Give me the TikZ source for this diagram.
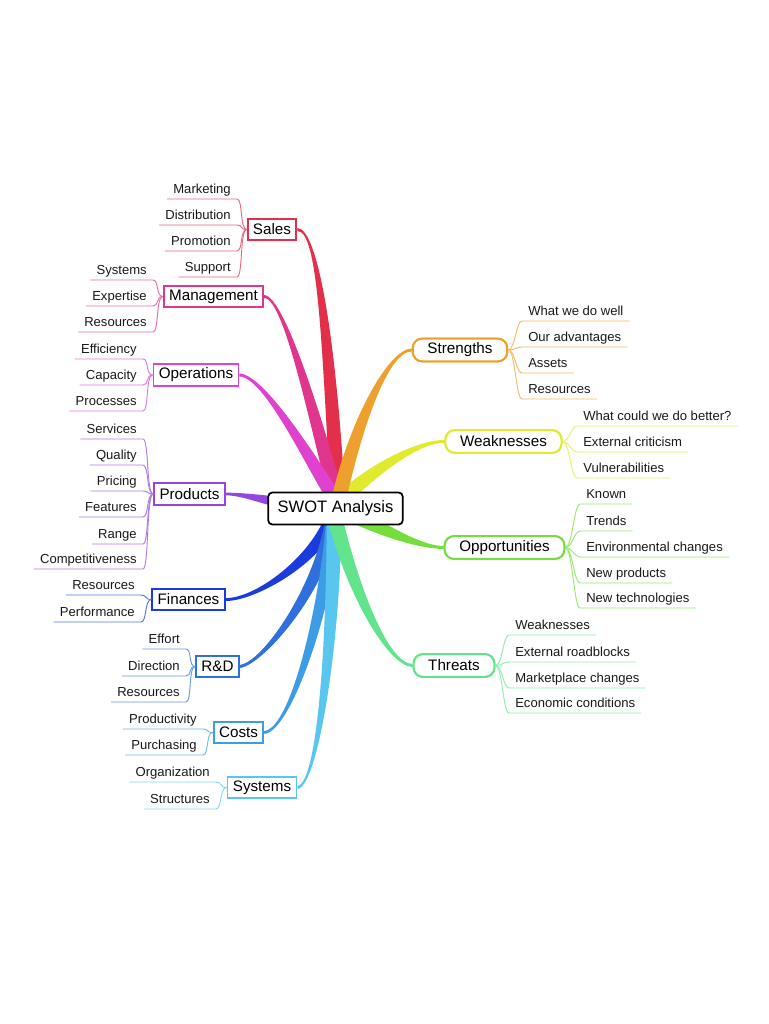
\documentclass[tikz,border=0pt]{standalone}
\usepackage{fontspec}
\setmainfont{Liberation Sans}
\usetikzlibrary{calc}

\definecolor{cSales}{HTML}{E2304A}
\definecolor{cMgmt}{HTML}{E0358C}
\definecolor{cOps}{HTML}{DE42CE}
\definecolor{cProd}{HTML}{9446E0}
\definecolor{cFin}{HTML}{1A3CDC}
\definecolor{cRD}{HTML}{2F70DC}
\definecolor{cCost}{HTML}{3C9CE6}
\definecolor{cSys}{HTML}{58C6EE}
\definecolor{cStr}{HTML}{EEA02E}
\definecolor{cWeak}{HTML}{E2EA2E}
\definecolor{cOpp}{HTML}{74DE3C}
\definecolor{cThr}{HTML}{62E48C}

\newcommand\swLeafFont{\fontsize{9.8pt}{11pt}\selectfont}
\newcommand\swBranchFont{\fontsize{11.4pt}{13pt}\selectfont}
\newcommand\swCenterFont{\fontsize{12.4pt}{14pt}\selectfont}

% tapered connector: #1 colour, #2 start, #3 control 1, #4 control 2, #5 end, #6 half width at start, #7 half width at end
\newcommand\swtaper[7]{%
  \fill[#1] ($(#2)!#6!90:(#3)$) .. controls ($(#3)!#6!-90:(#2)$) and ($(#4)!#7!90:(#5)$) .. ($(#5)!#7!-90:(#4)$)
    -- ($(#5)!#7!90:(#4)$) .. controls ($(#4)!#7!-90:(#5)$) and ($(#3)!#6!90:(#2)$) .. ($(#2)!#6!-90:(#3)$) -- cycle;}

% leaves: #1 name, #2 colour, #3 parent, #4 x, #5 y (underline), #6 text
\newcommand\swleafL[6]{%
  \node[leafL] (#1) at (#4,#5) {#6};
  \draw[uline=#2] (#1.south west) -- (#1.south east) .. controls +(6,0) and +(-7,0) .. (#3.west);}
\newcommand\swleafR[6]{%
  \node[leafR] (#1) at (#4,#5) {#6};
  \draw[uline=#2] (#3.east) .. controls +(7,0) and +(-6,0) .. (#1.south west) -- (#1.south east);}

\tikzset{
  lbox/.style={draw=#1, line width=1.4pt, fill=white, rectangle, inner xsep=4pt, inner ysep=0pt,
    minimum height=16pt, font=\swBranchFont, text=black},
  rbox/.style={draw=#1, line width=1.5pt, fill=white, rounded corners=7pt, inner xsep=11pt, inner ysep=0pt,
    minimum height=17pt, font=\swBranchFont, text=black},
  cbox/.style={draw=black, line width=1.3pt, fill=white, rounded corners=3pt, inner xsep=7pt, inner ysep=0pt,
    minimum height=24pt, font=\swCenterFont, text=black},
  leafL/.style={anchor=south east, inner xsep=4.5pt, inner ysep=1pt, text depth=3pt, font=\swLeafFont, text=black!90},
  leafR/.style={anchor=south west, inner xsep=4.5pt, inner ysep=1pt, text depth=3pt, font=\swLeafFont, text=black!90},
  uline/.style={draw=#1!72!white, line width=0.7pt}
}

\begin{document}
\begin{tikzpicture}[x=0.75pt, y=-0.75pt]
\fill[white] (0,0) rectangle (768,1024);
\useasboundingbox (0,0) rectangle (768,1024);

% centre anchors for the fan
\coordinate (ctop) at (338,503);
\coordinate (cbot) at (334,514);
\coordinate (cleft) at (300,505);
\coordinate (cright) at (350,514);

% branch nodes (placed first so that anchors exist; redrawn on top later)
\path
  node[lbox=cSales] (sales) at (272,229.5) {Sales}
  node[lbox=cMgmt] (mgmt) at (213.5,296.5) {Management}
  node[lbox=cOps] (ops) at (196,375) {Operations}
  node[lbox=cProd] (prod) at (189.5,494) {Products}
  node[lbox=cFin] (fin) at (188.5,599.5) {Finances}
  node[lbox=cRD] (rd) at (217.5,666.5) {R\&D}
  node[lbox=cCost] (costs) at (238.5,732.5) {Costs}
  node[lbox=cSys] (sys) at (262,787.5) {Systems}
  node[rbox=cStr] (str) at (460,350) {Strengths}
  node[rbox=cWeak] (weak) at (503.5,441.5) {Weaknesses}
  node[rbox=cOpp] (opp) at (504.5,547.5) {Opportunities}
  node[rbox=cThr] (thr) at (454,665.5) {Threats};

% tapered main connectors
\swtaper{cSales}{ctop}{329,340}{318,229}{sales.east}{5.5pt}{1.1pt}
\swtaper{cMgmt}{ctop}{318,430}{285,297}{mgmt.east}{5.5pt}{1.1pt}
\swtaper{cOps}{ctop}{315,470}{266,376}{ops.east}{5.5pt}{1.1pt}
\swtaper{cProd}{cleft}{270,502}{245,494}{prod.east}{4.5pt}{1pt}
\swtaper{cFin}{cbot}{318,560}{255,600}{fin.east}{5.5pt}{1.1pt}
\swtaper{cRD}{cbot}{322,590}{262,664}{rd.east}{5.5pt}{1.1pt}
\swtaper{cCost}{cbot}{328,600}{292,730}{costs.east}{5.5pt}{1.1pt}
\swtaper{cSys}{cbot}{334,640}{318,785}{sys.east}{5.5pt}{1.1pt}
\swtaper{cThr}{cbot}{352,590}{388,665}{thr.west}{5.5pt}{1.1pt}
\swtaper{cOpp}{cright}{385,530}{418,547}{opp.west}{5.5pt}{1.1pt}
\swtaper{cWeak}{ctop}{372,470}{418,441}{weak.west}{5.5pt}{1.1pt}
\swtaper{cStr}{ctop}{355,425}{388,350}{str.west}{5.5pt}{1.1pt}

% centre node
\node[cbox] (swot) at (335.5,508.5) {SWOT Analysis};

% branch nodes on top
\path
  node[lbox=cSales] at (sales) {Sales}
  node[lbox=cMgmt] at (mgmt) {Management}
  node[lbox=cOps] at (ops) {Operations}
  node[lbox=cProd] at (prod) {Products}
  node[lbox=cFin] at (fin) {Finances}
  node[lbox=cRD] at (rd) {R\&D}
  node[lbox=cCost] at (costs) {Costs}
  node[lbox=cSys] at (sys) {Systems}
  node[rbox=cStr] at (str) {Strengths}
  node[rbox=cWeak] at (weak) {Weaknesses}
  node[rbox=cOpp] at (opp) {Opportunities}
  node[rbox=cThr] at (thr) {Threats};

% leaves: Sales
\swleafL{s1}{cSales}{sales}{237}{199}{Marketing}
\swleafL{s2}{cSales}{sales}{237}{225}{Distribution}
\swleafL{s3}{cSales}{sales}{237}{251}{Promotion}
\swleafL{s4}{cSales}{sales}{237}{277}{Support}
% Management
\swleafL{m1}{cMgmt}{mgmt}{153}{280}{Systems}
\swleafL{m2}{cMgmt}{mgmt}{153}{306}{Expertise}
\swleafL{m3}{cMgmt}{mgmt}{153}{332}{Resources}
% Operations
\swleafL{o1}{cOps}{ops}{143}{359}{Efficiency}
\swleafL{o2}{cOps}{ops}{143}{385}{Capacity}
\swleafL{o3}{cOps}{ops}{143}{411}{Processes}
% Products
\swleafL{p1}{cProd}{prod}{143}{439}{Services}
\swleafL{p2}{cProd}{prod}{143}{465}{Quality}
\swleafL{p3}{cProd}{prod}{143}{491}{Pricing}
\swleafL{p4}{cProd}{prod}{143}{517}{Features}
\swleafL{p5}{cProd}{prod}{143}{544}{Range}
\swleafL{p6}{cProd}{prod}{143}{569}{Competitiveness}
% Finances
\swleafL{f1}{cFin}{fin}{141}{595}{Resources}
\swleafL{f2}{cFin}{fin}{141}{622}{Performance}
% R&D
\swleafL{r1}{cRD}{rd}{186}{649}{Effort}
\swleafL{r2}{cRD}{rd}{186}{676}{Direction}
\swleafL{r3}{cRD}{rd}{186}{702}{Resources}
% Costs
\swleafL{k1}{cCost}{costs}{203}{729}{Productivity}
\swleafL{k2}{cCost}{costs}{203}{755}{Purchasing}
% Systems
\swleafL{y1}{cSys}{sys}{216}{782}{Organization}
\swleafL{y2}{cSys}{sys}{216}{809}{Structures}
% Strengths
\swleafR{t1}{cStr}{str}{522}{321}{What we do well}
\swleafR{t2}{cStr}{str}{522}{347}{Our advantages}
\swleafR{t3}{cStr}{str}{522}{373}{Assets}
\swleafR{t4}{cStr}{str}{522}{399}{Resources}
% Weaknesses
\swleafR{w1}{cWeak}{weak}{577}{426}{What could we do better?}
\swleafR{w2}{cWeak}{weak}{577}{452}{External criticism}
\swleafR{w3}{cWeak}{weak}{577}{478}{Vulnerabilities}
% Opportunities
\swleafR{q1}{cOpp}{opp}{580}{504}{Known}
\swleafR{q2}{cOpp}{opp}{580}{531}{Trends}
\swleafR{q3}{cOpp}{opp}{580}{557}{Environmental changes}
\swleafR{q4}{cOpp}{opp}{580}{583}{New products}
\swleafR{q5}{cOpp}{opp}{580}{608}{New technologies}
% Threats
\swleafR{h1}{cThr}{thr}{509}{635}{Weaknesses}
\swleafR{h2}{cThr}{thr}{509}{662}{External roadblocks}
\swleafR{h3}{cThr}{thr}{509}{688}{Marketplace changes}
\swleafR{h4}{cThr}{thr}{509}{713}{Economic conditions}
\end{tikzpicture}
\end{document}
